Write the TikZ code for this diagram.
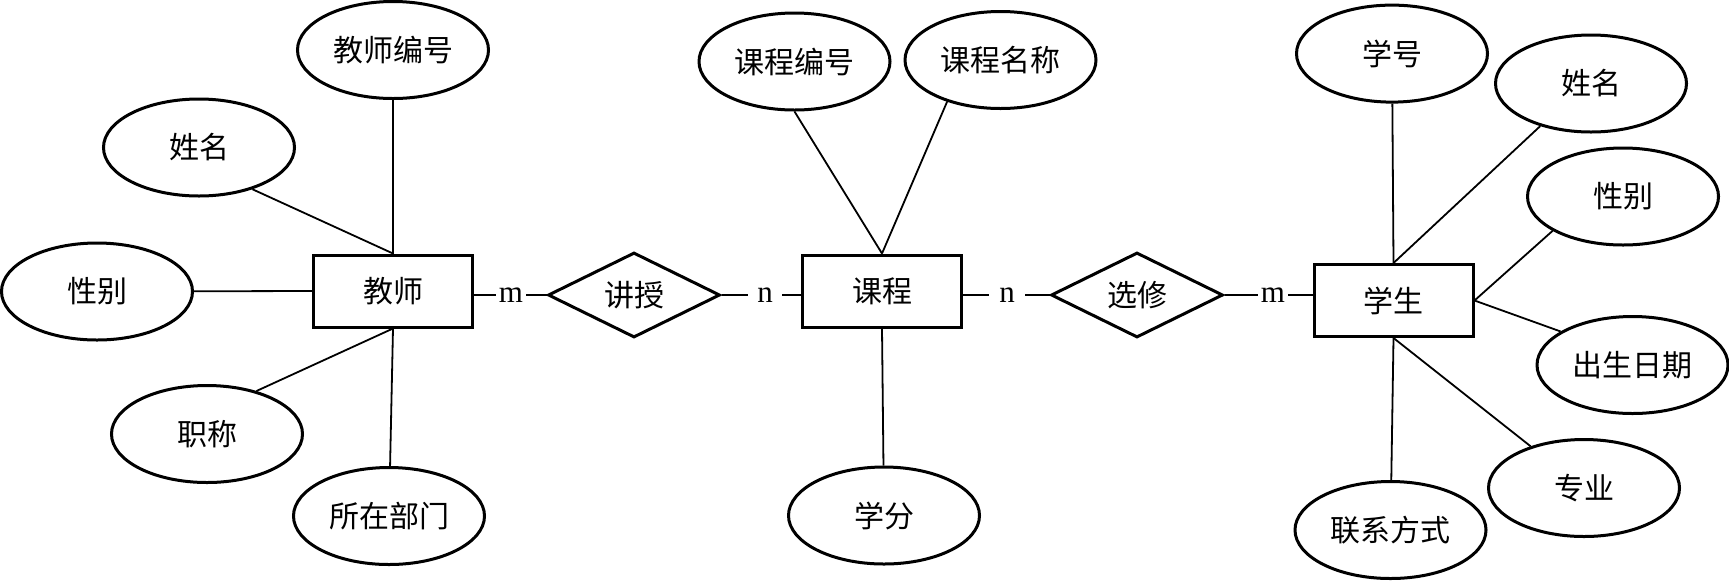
\documentclass[tikz,border=0pt]{standalone}
\usepackage{fontspec}
\setmainfont{Liberation Serif}
\newfontfamily\cjk{Noto Sans CJK SC}
\usetikzlibrary{shapes.geometric}
\begin{document}
\begin{tikzpicture}[x=0.5pt,y=-0.5pt,
  attr/.style={ellipse,draw,line width=1.5pt,inner sep=0pt,minimum width=95.5pt,minimum height=48.5pt,font=\cjk\fontsize{15pt}{18pt}\selectfont},
  entity/.style={rectangle,draw,line width=1.5pt,inner sep=0pt,minimum width=79.5pt,minimum height=36pt,font=\cjk\fontsize{15pt}{18pt}\selectfont},
  rel/.style={diamond,draw,line width=1.5pt,inner sep=0pt,aspect=2,minimum width=86pt,minimum height=42.5pt,font=\cjk\fontsize{15pt}{18pt}\selectfont},
  card/.style={inner ysep=0pt,font=\fontsize{15.5pt}{18pt}\selectfont},
  conn/.style={line width=0.9pt}]
\useasboundingbox (0,0) rectangle (1729,580);
% teacher
\node[entity] (T) at (393,291) {教师};
\node[attr] (tno) at (393,50) {教师编号};
\node[attr] (tname) at (199,147.5) {姓名};
\node[attr] (tsex) at (97,291.5) {性别};
\node[attr] (ttitle) at (207,434) {职称};
\node[attr] (tdept) at (389,516) {所在部门};
% course
\node[entity] (C) at (882,291) {课程};
\node[attr] (cno) at (794.5,61.5) {课程编号};
\node[attr] (cname) at (1000.5,60) {课程名称};
\node[attr] (ccredit) at (884,515.5) {学分};
% student
\node[entity] (S) at (1393.5,300.5) {学生};
\node[attr] (sno) at (1392,53.6) {学号};
\node[attr] (sname) at (1591,83.5) {姓名};
\node[attr] (ssex) at (1623,196.5) {性别};
\node[attr] (sbirth) at (1632.5,365) {出生日期};
\node[attr] (smajor) at (1584,488) {专业};
\node[attr] (scontact) at (1390.5,530) {联系方式};
% relationships
\node[rel] (js) at (634,295) {讲授};
\node[rel] (xx) at (1137,295) {选修};
\node[card,inner xsep=1.5pt] (m1) at (511,295) {m};
\node[card,inner xsep=4.5pt] (n1) at (765,295) {n};
\node[card,inner xsep=5pt] (n2) at (1007,295) {n};
\node[card,inner xsep=1.5pt] (m2) at (1273,295) {m};
% connectors
\draw[conn] (tno) -- (T.north);
\draw[conn] (tname.-38) -- (T.north);
\draw[conn] (tsex) -- (T.west);
\draw[conn] (ttitle.41) -- (T.south);
\draw[conn] (tdept) -- (T.south);
\draw[conn] (cno.south) -- (C.north);
\draw[conn] (cname.218) -- (C.north);
\draw[conn] (ccredit) -- (C.south);
\draw[conn] (sno) -- (S.north);
\draw[conn] (sname.220) -- (S.north);
\draw[conn] (ssex.206) -- (S.east);
\draw[conn] (sbirth.155) -- (S.east);
\draw[conn] (smajor.142) -- (S.south);
\draw[conn] (scontact) -- (S.south);
\draw[conn] (T.east |- js) -- (m1) -- (js);
\draw[conn] (js) -- (n1) -- (C.west |- js);
\draw[conn] (C.east |- xx) -- (n2) -- (xx);
\draw[conn] (xx) -- (m2) -- (S.west |- xx);
\end{tikzpicture}
\end{document}
